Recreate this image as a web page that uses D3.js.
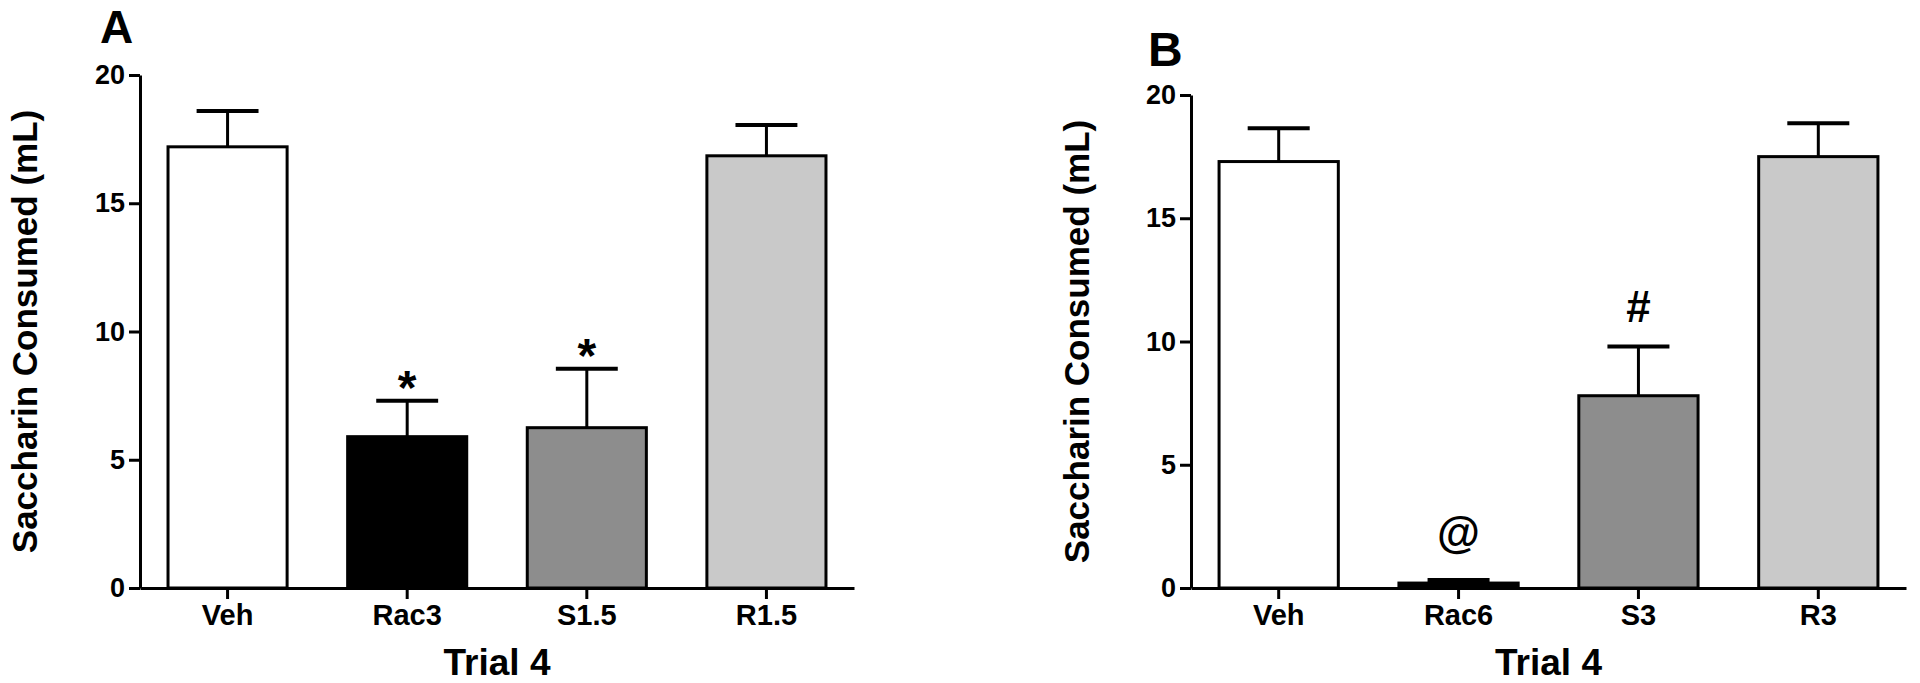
<!DOCTYPE html>
<html>
<head>
<meta charset="utf-8">
<script src="https://cdn.jsdelivr.net/npm/d3@7/dist/d3.min.js"></script>
<style>
  html, body { margin: 0; padding: 0; background: #ffffff; }
  svg { display: block; }
  text { font-family: "Liberation Sans", Arial, Helvetica, sans-serif; font-weight: bold; fill: #000; }
</style>
</head>
<body>
<svg id="chart" width="1920" height="683"></svg>
<script>
// ---- Data ----
const panelACategories = ["Veh", "Rac3", "S1.5", "R1.5"];
const panelAMeans = [17.2, 5.9, 6.25, 16.85];
const panelASems = [1.4, 1.4, 2.3, 1.2];
const panelAMarks = ["", "*", "*", ""];

const panelBCategories = ["Veh", "Rac6", "S3", "R3"];
const panelBMeans = [17.3, 0.2, 7.8, 17.5];
const panelBSems = [1.35, 0.12, 2.0, 1.35];
const panelBMarks = ["", "@", "#", ""];

const yTickValues = [0, 5, 10, 15, 20];
const xAxisTitle = "Trial 4";
const yAxisTitle = "Saccharin Consumed (mL)";
const panelLetters = ["A", "B"];

// ---- Styles / layout ----
const barFills = ["#ffffff", "#000000", "#8d8d8d", "#c9c9c9"];
const markOffsets = { "*": 3, "#": -24, "@": -32 };
const markSizes = { "*": 48, "#": 44, "@": 44 };

const panels = [
  { letter: panelLetters[0], cats: panelACategories, means: panelAMeans, sems: panelASems, marks: panelAMarks,
    x0: 140, x1: 854, y0: 588, yTop: 75, letterX: 100, letterY: 43, letterSize: 46, ylabX: 37 },
  { letter: panelLetters[1], cats: panelBCategories, means: panelBMeans, sems: panelBSems, marks: panelBMarks,
    x0: 1191, x1: 1906, y0: 588, yTop: 95, letterX: 1148, letterY: 66, letterSize: 48, ylabX: 1089 }
];

const svg = d3.select("#chart");

panels.forEach(p => {
  const g = svg.append("g");
  const x = d3.scaleBand().domain(p.cats).range([p.x0, p.x1])
    .paddingInner(0.337).paddingOuter(0.156).align(0.5);
  const y = d3.scaleLinear().domain([0, 20]).range([p.y0, p.yTop]);

  const data = p.cats.map((c, i) => ({ cat: c, mean: p.means[i], sem: p.sems[i], mark: p.marks[i], fill: barFills[i] }));

  // bars
  g.selectAll("rect.bar").data(data).enter().append("rect")
    .attr("class", "bar")
    .attr("x", d => x(d.cat))
    .attr("y", d => y(d.mean))
    .attr("width", x.bandwidth())
    .attr("height", d => y(0) - y(d.mean))
    .attr("fill", d => d.fill)
    .attr("stroke", "#000")
    .attr("stroke-width", 3);

  // error bars (upper only)
  const capHalf = x.bandwidth() * 0.26;
  g.selectAll("line.err").data(data).enter().append("line")
    .attr("x1", d => x(d.cat) + x.bandwidth() / 2)
    .attr("x2", d => x(d.cat) + x.bandwidth() / 2)
    .attr("y1", d => y(d.mean))
    .attr("y2", d => y(d.mean + d.sem))
    .attr("stroke", "#000").attr("stroke-width", 3);
  g.selectAll("line.cap").data(data).enter().append("line")
    .attr("x1", d => x(d.cat) + x.bandwidth() / 2 - capHalf)
    .attr("x2", d => x(d.cat) + x.bandwidth() / 2 + capHalf)
    .attr("y1", d => y(d.mean + d.sem))
    .attr("y2", d => y(d.mean + d.sem))
    .attr("stroke", "#000").attr("stroke-width", 4);

  // significance marks
  g.selectAll("text.mark").data(data.filter(d => d.mark)).enter().append("text")
    .attr("x", d => x(d.cat) + x.bandwidth() / 2)
    .attr("y", d => y(d.mean + d.sem) + markOffsets[d.mark])
    .attr("text-anchor", "middle")
    .style("font-size", d => markSizes[d.mark] + "px")
    .text(d => d.mark);

  // y axis
  const yAxis = g.append("g").attr("transform", `translate(${p.x0},0)`)
    .call(d3.axisLeft(y).tickValues(yTickValues).tickSize(11).tickSizeOuter(0).tickPadding(4));
  yAxis.select(".domain").attr("stroke", "#000").attr("stroke-width", 3);
  yAxis.selectAll(".tick line").attr("stroke", "#000").attr("stroke-width", 3);
  yAxis.selectAll(".tick text").style("font-size", "27px").style("font-family", "'Liberation Sans', Arial, sans-serif").style("font-weight", "bold").attr("fill", "#000");

  // x axis
  const xAxis = g.append("g").attr("transform", `translate(0,${p.y0})`)
    .call(d3.axisBottom(x).tickSize(11).tickSizeOuter(0));
  xAxis.select(".domain").attr("stroke", "#000").attr("stroke-width", 3);
  xAxis.selectAll(".tick line").attr("stroke", "#000").attr("stroke-width", 3);
  xAxis.selectAll(".tick text").attr("y", 37).attr("dy", "0").style("font-size", "29px")
    .style("font-family", "'Liberation Sans', Arial, sans-serif").style("font-weight", "bold").attr("fill", "#000");

  // axis titles
  g.append("text")
    .attr("x", (p.x0 + p.x1) / 2).attr("y", 675)
    .attr("text-anchor", "middle").style("font-size", "37px")
    .text(xAxisTitle);
  g.append("text")
    .attr("transform", `translate(${p.ylabX},${(p.y0 + p.yTop) / 2}) rotate(-90)`)
    .attr("text-anchor", "middle").style("font-size", "35px")
    .text(yAxisTitle);

  // panel letter
  g.append("text").attr("x", p.letterX).attr("y", p.letterY)
    .style("font-size", p.letterSize + "px").text(p.letter);
});
</script>
</body>
</html>
